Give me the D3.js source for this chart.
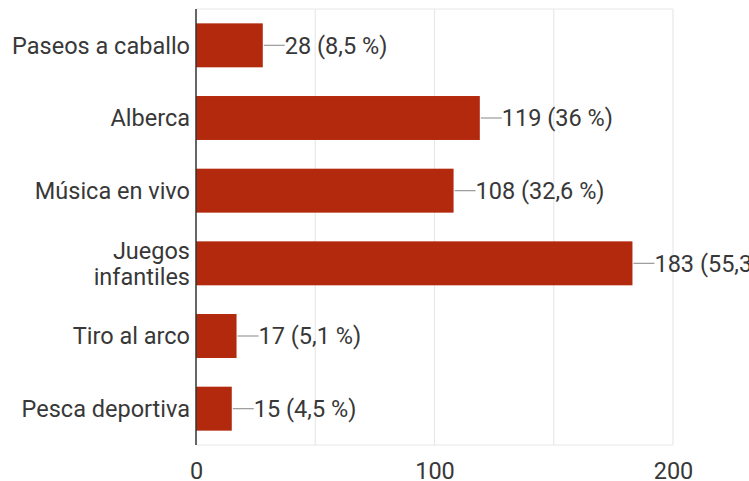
<!DOCTYPE html>
<html>
<head>
<meta charset="utf-8">
<script src="https://cdn.jsdelivr.net/npm/d3@7"></script>
<style>
  html, body { margin: 0; padding: 0; background: #fff; }
  svg { display: block; }
  text { font-family: Roboto, "Noto Sans", sans-serif; fill: #383838; }
</style>
</head>
<body>
<svg id="chart" width="749" height="481"></svg>
<script>
// Activities and the number of responses for each
const categories = ["Paseos a caballo", "Alberca", "Música en vivo", "Juegos infantiles", "Tiro al arco", "Pesca deportiva"];
const counts = [28, 119, 108, 183, 17, 15];
const percents = ["8,5", "36", "32,6", "55,3", "5,1", "4,5"];
const gridValues = [0, 50, 100, 150, 200];
const tickValues = [0, 100, 200];

const svg = d3.select("#chart");
const margin = { top: 9, left: 196, right: 76, bottom: 36 };
const W = 749, H = 481;

const x = d3.scaleLinear().domain([0, 200]).range([margin.left, W - margin.right]);
const y = d3.scaleBand().domain(categories).range([margin.top, H - margin.bottom]).paddingInner(0.395).paddingOuter(0.1975);

const barColor = "#b2290e";
const fontSize = 23.5;

// vertical gridlines
svg.append("g").selectAll("line").data(gridValues.slice(1)).join("line")
  .attr("x1", d => x(d)).attr("x2", d => x(d))
  .attr("y1", margin.top).attr("y2", H - margin.bottom)
  .attr("stroke", "#e8e8e8").attr("stroke-width", 1.2);

// top and bottom frame lines
[margin.top, H - margin.bottom].forEach(yy => {
  svg.append("line")
    .attr("x1", x(0)).attr("x2", x(200))
    .attr("y1", yy).attr("y2", yy)
    .attr("stroke", "#e8e8e8").attr("stroke-width", 1.2);
});

// bars
svg.append("g").selectAll("rect").data(categories).join("rect")
  .attr("x", x(0))
  .attr("y", d => y(d))
  .attr("width", (d, i) => x(counts[i]) - x(0))
  .attr("height", y.bandwidth())
  .attr("fill", barColor);

// value labels with leader lines
const lab = svg.append("g").selectAll("g").data(categories).join("g")
  .attr("transform", (d, i) => `translate(${x(counts[i])},${y(d) + y.bandwidth() / 2})`);
lab.append("line")
  .attr("x1", 1).attr("x2", 22).attr("y1", 0).attr("y2", 0)
  .attr("stroke", "#999").attr("stroke-width", 1.2);
lab.append("text")
  .attr("x", 22).attr("dy", "0.35em")
  .attr("font-size", fontSize)
  .text((d, i) => `${counts[i]} (${percents[i]} %)`);

// category labels (wrapped where needed)
const wrapped = { "Juegos infantiles": ["Juegos", "infantiles"] };
svg.append("g").selectAll("text").data(categories).join("text")
  .attr("x", margin.left - 6)
  .attr("y", d => y(d) + y.bandwidth() / 2)
  .attr("text-anchor", "end")
  .attr("font-size", fontSize)
  .each(function (d) {
    const lines = wrapped[d] || [d];
    const lh = 26;
    const t = d3.select(this);
    lines.forEach((ln, k) => {
      t.append("tspan")
        .attr("x", margin.left - 6)
        .attr("dy", k === 0 ? `${0.35 * fontSize - (lines.length - 1) * lh / 2}px` : `${lh}px`)
        .text(ln);
    });
  });

// value axis ticks
const xAxis = d3.axisBottom(x).tickValues(tickValues).tickSize(0).tickPadding(0);
const gx = svg.append("g").attr("transform", `translate(0,${H - margin.bottom})`).call(xAxis);
gx.select(".domain").remove();
gx.selectAll("text")
  .attr("font-size", fontSize)
  .attr("y", 26)
  .attr("dy", "0.35em")
  .style("font-family", "Roboto, 'Noto Sans', sans-serif")
  .attr("fill", "#383838");

// category axis line
svg.append("line")
  .attr("x1", x(0)).attr("x2", x(0))
  .attr("y1", margin.top).attr("y2", H - margin.bottom)
  .attr("stroke", "#333").attr("stroke-width", 1.5);
</script>
</body>
</html>
